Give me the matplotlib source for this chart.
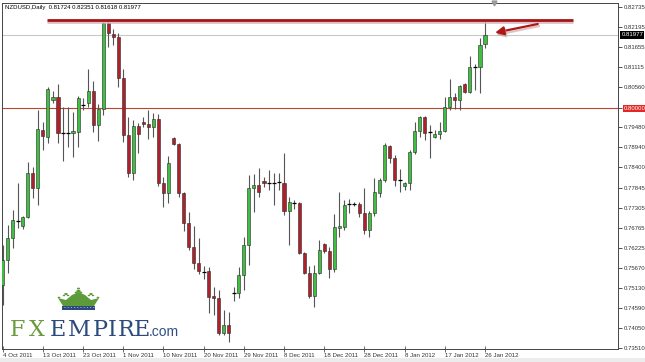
import numpy as np
import matplotlib
matplotlib.use('Agg')
import matplotlib.pyplot as plt
import matplotlib.patheffects as pe
from matplotlib.patches import Polygon, Circle, Rectangle

# NZDUSD daily candles, 4 Oct 2011 .. 26 Jan 2012
opens = [0.75216, 0.75892, 0.76487, 0.76973, 0.76811, 0.77054, 0.78244, 0.77838, 0.79406, 0.79217,
         0.80217, 0.80298, 0.79325, 0.79325, 0.79325, 0.79352, 0.80055, 0.80136, 0.80460, 0.79541,
         0.79974, 0.82298, 0.82001, 0.81920, 0.80812, 0.79271, 0.78244, 0.79514, 0.79622, 0.79568,
         0.79487, 0.79703, 0.77974, 0.77703, 0.79190, 0.79028, 0.77703, 0.76892, 0.76244, 0.75811,
         0.75595, 0.75595, 0.74919, 0.74865, 0.73919, 0.74135, 0.75000, 0.75000, 0.75487, 0.76298,
         0.77852, 0.77919, 0.78028, 0.77974, 0.77974, 0.78001, 0.77974, 0.77217, 0.77460, 0.77433,
         0.76081, 0.75541, 0.74919, 0.75541, 0.76325, 0.76135, 0.75649, 0.76757, 0.76784, 0.77406,
         0.77406, 0.77406, 0.77163, 0.76703, 0.77163, 0.77703, 0.78055, 0.78974, 0.78649, 0.78055,
         0.77892, 0.77974, 0.78811, 0.79379, 0.79757, 0.79352, 0.79217, 0.79298, 0.79379, 0.80028,
         0.80298, 0.80217, 0.80649, 0.80433, 0.81109, 0.81109, 0.81724]
highs = [0.76298, 0.76838, 0.77244, 0.77974, 0.77082, 0.78541, 0.78406, 0.79947, 0.79622, 0.80568,
         0.80460, 0.80649, 0.80028, 0.80028, 0.79893, 0.80325, 0.80271, 0.81055, 0.80731, 0.80109,
         0.82325, 0.82380, 0.82136, 0.82028, 0.81055, 0.79757, 0.79676, 0.79595, 0.79757, 0.79947,
         0.79866, 0.79839, 0.78136, 0.78703, 0.79217, 0.79055, 0.77730, 0.77190, 0.76811, 0.76487,
         0.75730, 0.75703, 0.75162, 0.75081, 0.74541, 0.74487, 0.75162, 0.75703, 0.76514, 0.78190,
         0.78217, 0.78379, 0.78136, 0.78325, 0.78244, 0.78244, 0.78784, 0.77595, 0.77514, 0.77460,
         0.76108, 0.75730, 0.75757, 0.76433, 0.76352, 0.76244, 0.77136, 0.77730, 0.77514, 0.77541,
         0.77460, 0.77460, 0.77838, 0.77217, 0.78109, 0.78109, 0.79055, 0.79001, 0.78730, 0.78352,
         0.78001, 0.78865, 0.79622, 0.79785, 0.79785, 0.79541, 0.79406, 0.79622, 0.80298, 0.80785,
         0.80406, 0.80622, 0.80677, 0.81406, 0.81190, 0.81893, 0.82351]
lows = [0.74676, 0.75541, 0.76217, 0.76757, 0.76730, 0.77027, 0.77568, 0.77379, 0.78865, 0.79055,
        0.80136, 0.79055, 0.78568, 0.78947, 0.78676, 0.78947, 0.79947, 0.80028, 0.79352, 0.79109,
        0.79812, 0.81650, 0.81704, 0.80568, 0.79082, 0.78136, 0.78055, 0.78784, 0.79487, 0.79163,
        0.79217, 0.77892, 0.77325, 0.77433, 0.79001, 0.77595, 0.76676, 0.76162, 0.75649, 0.75514,
        0.75379, 0.74460, 0.74406, 0.73865, 0.73865, 0.73676, 0.74784, 0.74865, 0.75081, 0.75757,
        0.77190, 0.77595, 0.77865, 0.77784, 0.77379, 0.77784, 0.77109, 0.76298, 0.77271, 0.76054,
        0.75514, 0.74865, 0.74622, 0.75514, 0.76081, 0.75406, 0.75568, 0.76514, 0.76703, 0.77163,
        0.77352, 0.77054, 0.76595, 0.76514, 0.77082, 0.77595, 0.78001, 0.78514, 0.77892, 0.77730,
        0.77784, 0.77784, 0.78757, 0.79217, 0.79136, 0.78649, 0.79190, 0.79163, 0.79352, 0.79947,
        0.79974, 0.79947, 0.80406, 0.80406, 0.80487, 0.80406, 0.81618]
closes = [0.75892, 0.76487, 0.76973, 0.76960, 0.77054, 0.78244, 0.77838, 0.79433, 0.79244, 0.80514,
          0.80298, 0.79325, 0.79330, 0.79330, 0.79379, 0.80271, 0.80082, 0.80460, 0.79541, 0.79974,
          0.82298, 0.82028, 0.81920, 0.80812, 0.79271, 0.78244, 0.79514, 0.79298, 0.79568, 0.79487,
          0.79703, 0.77974, 0.77703, 0.78514, 0.79028, 0.77703, 0.76892, 0.76244, 0.75811, 0.75595,
          0.75568, 0.74892, 0.74865, 0.73919, 0.74135, 0.73919, 0.75005, 0.75487, 0.76298, 0.77838,
          0.77919, 0.77730, 0.77974, 0.77970, 0.77980, 0.78005, 0.77217, 0.77460, 0.77433, 0.76081,
          0.75541, 0.74919, 0.75541, 0.76162, 0.76135, 0.75649, 0.76784, 0.76811, 0.77379, 0.77400,
          0.77410, 0.77163, 0.76703, 0.77163, 0.77730, 0.78055, 0.79001, 0.78649, 0.78055, 0.78060,
          0.77974, 0.78811, 0.79379, 0.79757, 0.79325, 0.79339, 0.79298, 0.79379, 0.80028, 0.80298,
          0.80217, 0.80595, 0.80433, 0.81109, 0.81115, 0.81704, 0.81977]

date_labels = ['4 Oct 2011', '13 Oct 2011', '23 Oct 2011', '1 Nov 2011', '10 Nov 2011',
               '20 Nov 2011', '29 Nov 2011', '8 Dec 2011', '18 Dec 2011', '28 Dec 2011',
               '8 Jan 2012', '17 Jan 2012', '26 Jan 2012']
price_ticks = [0.82735, 0.82195, 0.81655, 0.81115, 0.80560, 0.80000, 0.79480, 0.78940, 0.78400,
               0.77845, 0.77305, 0.76765, 0.76225, 0.75670, 0.75130, 0.74590, 0.74050, 0.73510]

support_level = 0.80000
resistance_level = 0.82393

W, H = 645, 362
fig = plt.figure(figsize=(W / 100, H / 100), dpi=100)
fig.patch.set_facecolor('white')
# light grey strip along the bottom edge of the window
fig.patches.append(Rectangle((0, 0), 1, 4 / H, facecolor='#ececec', edgecolor='none',
                             transform=fig.transFigure))
ax = fig.add_axes([2 / W, 13 / H, 616 / W, 346 / H])

o = np.array(opens)
h = np.array(highs)
l = np.array(lows)
c = np.array(closes)
x = np.arange(len(o))

doji = np.abs(c - o) < 0.00029
up = (c > o) & ~doji
down = (c < o) & ~doji

# wicks first, then bodies on top
ax.vlines(x, l, h, color='#555555', linewidth=0.8, zorder=3)
ax.bar(x[up], (c - o)[up], bottom=o[up], width=0.62, color='#3fbf3f',
       edgecolor='#2a2a2a', linewidth=0.4, zorder=4)
ax.bar(x[down], (o - c)[down], bottom=c[down], width=0.62, color='#b0202a',
       edgecolor='#2a2a2a', linewidth=0.4, zorder=4)
ax.hlines(c[doji], x[doji] - 0.4, x[doji] + 0.4, color='black', linewidth=0.9, zorder=4)

# horizontal levels
ax.axhline(support_level, color='#b5482f', linewidth=0.8, zorder=2)
ax.axhline(closes[-1], color='#c8c8c8', linewidth=0.8, zorder=1)
ax.hlines(resistance_level, 8.8, 113.5, color='#a51515', linewidth=2.0, zorder=5,
          path_effects=[pe.SimpleLineShadow(offset=(0, -1.5), shadow_color='#d8b0b8', alpha=0.8),
                        pe.Normal()])

# arrow pointing at the last candle
ax.annotate('', xy=(98.0, 0.82036), xytext=(106.5, 0.82271),
            arrowprops=dict(arrowstyle='-|>,head_length=0.5,head_width=0.25',
                            color='#b01818', linewidth=1.6, shrinkA=0, shrinkB=0,
                            path_effects=[pe.SimpleLineShadow(offset=(1, -1.5),
                                                              shadow_color='#c0a0a0', alpha=0.6),
                                          pe.Normal()]),
            zorder=6)

ax.set_xlim(-0.14, 122.47)
ax.set_ylim(0.73487, 0.82839)

# right price scale
ax.yaxis.tick_right()
ax.set_yticks(price_ticks)
ax.set_yticklabels([f'{p:.5f}' for p in price_ticks], family='Liberation Sans')
ax.tick_params(axis='y', labelsize=4.3, labelcolor='#333333', length=3, width=0.6,
               color='#333333', pad=1.2)
for lbl in ax.get_yticklabels():
    if lbl.get_text() == f'{support_level:.5f}':
        lbl.set_color('white')
        lbl.set_bbox(dict(facecolor='#e02828', edgecolor='none', pad=0.8))

# current price box
ax.text(1.0055, closes[-1], f'{closes[-1]:.5f}', transform=ax.get_yaxis_transform(),
        ha='left', va='center', fontsize=4.3, family='Liberation Sans', color='white',
        bbox=dict(facecolor='black', edgecolor='none', pad=0.8), clip_on=False, zorder=10)

# date scale
ax.set_xticks(np.arange(0, 8 * len(date_labels), 8))
ax.set_xticklabels(date_labels, family='Liberation Sans')
ax.tick_params(axis='x', labelsize=4.4, labelcolor='#333333', length=5, width=0.6,
               direction='inout', color='#555555', pad=0.5)
for lbl in ax.get_xticklabels():
    lbl.set_horizontalalignment('left')

for s in ax.spines.values():
    s.set_color('#444444')
    s.set_linewidth(0.7)

# shift marker on top edge
ax.plot([97.8], [0.82839], marker='v', markersize=3.5, color='#9a9a9a', clip_on=False, zorder=7)

# header
fig.text(5 / W, 1 - 7 / H,
         f'NZDUSD,Daily  {opens[-1]:.5f} {highs[-1]:.5f} {lows[-1]:.5f} {closes[-1]:.5f}',
         fontsize=4.3, family='Liberation Sans', color='black', va='center', ha='left')


# FXEMPIRE logo (pixel coords, y from top)
def px(xp, yp):
    return (xp / W, 1 - yp / H)


logo_letters = ['F', 'X', 'E', 'M', 'P', 'I', 'R', 'E']
logo_centers = [17, 36.5, 58, 79, 100, 112.5, 126.5, 141.5]
for i, (ch, cx) in enumerate(zip(logo_letters, logo_centers)):
    col = '#6a9b3f' if i < 2 else '#2c4a7e'
    fig.text(*px(cx, 336), ch, fontsize=16, family='DejaVu Serif', color=col,
             ha='center', va='baseline')
fig.text(*px(149, 336), '.com', fontsize=10, family='Liberation Sans', color='#2f4f86',
         ha='left', va='baseline')

green = '#5d9a3a'
crown = [(58, 298), (63, 306), (94, 306), (99, 298), (91, 300), (85, 295), (78.5, 292),
         (72, 295), (66, 300)]
fig.patches.append(Polygon([px(*p) for p in crown], closed=True, facecolor=green,
                           edgecolor='none', transform=fig.transFigure))
for (cx, cy, r) in [(78.5, 291, 2.2), (76.3, 292.5, 1.6), (80.7, 292.5, 1.6), (78.5, 288.5, 1.6),
                    (66, 294, 1.8), (64, 295.5, 1.3), (68, 295.5, 1.3),
                    (91, 294, 1.8), (89, 295.5, 1.3), (93, 295.5, 1.3),
                    (59, 297.5, 1.4), (98, 297.5, 1.4)]:
    fig.patches.append(Circle(px(cx, cy), r / W, facecolor=green, edgecolor='none',
                              transform=fig.transFigure))
fig.patches.append(Rectangle(px(62, 309.5), 33 / W, 3.5 / H, facecolor='#2c4a7e',
                             edgecolor='none', transform=fig.transFigure))
for dx in np.arange(65, 94, 3.2):
    fig.patches.append(Circle(px(dx, 307.7), 0.6 / W, facecolor='white', edgecolor='none',
                              transform=fig.transFigure))

fig.savefig('out.png', dpi=100)
